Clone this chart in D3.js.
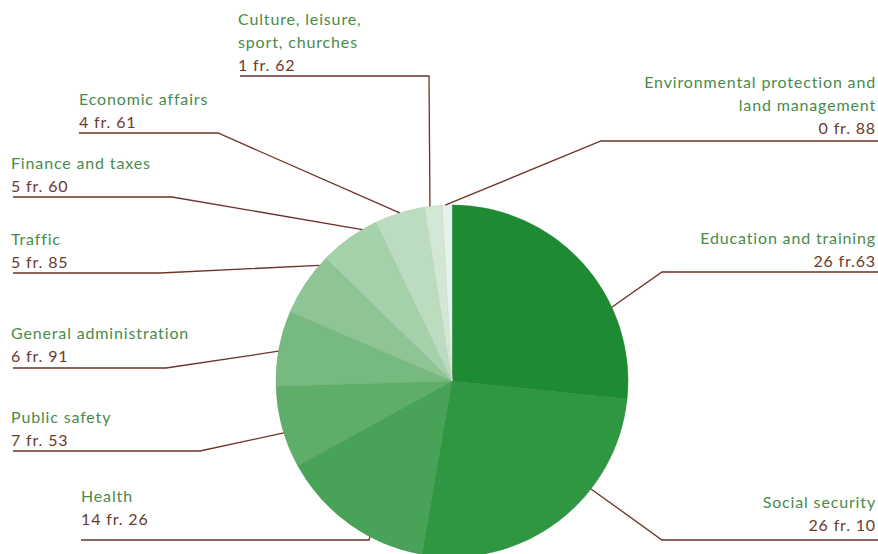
<!DOCTYPE html>
<html>
<head>
<meta charset="utf-8">
<script src="https://cdn.jsdelivr.net/npm/d3@7"></script>
<style>
  body { margin: 0; background: #fff; }
  svg { display: block; font-family: "Lato", "Noto Sans", sans-serif; }
</style>
</head>
<body>
<div id="chart"></div>
<script>
// Data (per 100 fr.)
var categories = [
    "Education and training", "Social security", "Health", "Public safety",
    "General administration", "Traffic", "Finance and taxes", "Economic affairs",
    "Culture, leisure, sport, churches", "Environmental protection and land management"
];
var values = [26.63, 26.10, 14.26, 7.53, 6.91, 5.85, 5.60, 4.61, 1.62, 0.88];
var valueLabels = ["26 fr.63", "26 fr. 10", "14 fr. 26", "7 fr. 53", "6 fr. 91",
    "5 fr. 85", "5 fr. 60", "4 fr. 61", "1 fr. 62", "0 fr. 88"];
var colors = ["#1e8b32", "#2f9742", "#48a257", "#5eae6a", "#76ba7f",
    "#8ec595", "#a4d0aa", "#bcdcc0", "#d2e8d5", "#e7f2e8"];

// Label layout: text lines, anchor, elbow, line end, where on the slice the leader hits
var labelLayout = [
    { lines: ["Education and training"], x: 876, y: 244, anchor: "end", lineY: 272, x0: 662, x1: 878, t: 0.68 },
    { lines: ["Social security"], x: 876, y: 508, anchor: "end", lineY: 540, x0: 662, x1: 878, t: 0.34 },
    { lines: ["Health"], x: 81, y: 502, anchor: "start", lineY: 540, x0: 369, x1: 81, t: 0.35 },
    { lines: ["Public safety"], x: 11, y: 423, anchor: "start", lineY: 451, x0: 200, x1: 13, t: 0.43 },
    { lines: ["General administration"], x: 11, y: 339, anchor: "start", lineY: 368, x0: 166, x1: 13, t: 0.46 },
    { lines: ["Traffic"], x: 11, y: 245, anchor: "start", lineY: 273, x0: 160, x1: 13, t: 0.85 },
    { lines: ["Finance and taxes"], x: 11, y: 169, anchor: "start", lineY: 197, x0: 172, x1: 13, t: 0.75 },
    { lines: ["Economic affairs"], x: 79, y: 105, anchor: "start", lineY: 133, x0: 218, x1: 79, t: 0.5 },
    { lines: ["Culture, leisure,", "sport, churches"], x: 238, y: 25, anchor: "start", lineY: 76, x0: 429, x1: 240, t: 0.31 },
    { lines: ["Environmental protection and", "land management"], x: 876, y: 88, anchor: "end", lineY: 141, x0: 601, x1: 878, t: 0.3 }
];

var svgWidth = 878;
var svgHeight = 554;
var cx = 452, cy = 381, radius = 176;

var svg = d3.select("#chart")
    .append("svg")
    .attr("width", svgWidth)
    .attr("height", svgHeight);

var pie = d3.pie().sort(null).value(d => d);
var arcs = pie(values);

var arc = d3.arc().innerRadius(0).outerRadius(radius);

var pieGroup = svg.append("g")
    .attr("transform", `translate(${cx}, ${cy})`);

pieGroup.selectAll("path")
    .data(arcs)
    .enter()
    .append("path")
    .attr("d", arc)
    .attr("fill", (d, i) => colors[i])
    .attr("stroke", (d, i) => d3.color(colors[i]).darker(0.25))
    .attr("stroke-width", 0.5);

// Leader lines
var lineColor = "#6e3226";
arcs.forEach(function (a, i) {
    var lay = labelLayout[i];
    var ang = a.startAngle + (a.endAngle - a.startAngle) * lay.t;
    var px = cx + radius * Math.sin(ang);
    var py = cy - radius * Math.cos(ang);
    svg.append("polyline")
        .attr("points", `${px},${py} ${lay.x0},${lay.lineY} ${lay.x1},${lay.lineY}`)
        .attr("fill", "none")
        .attr("stroke", lineColor)
        .attr("stroke-width", 1.3);
});

// Labels
var labelGroup = svg.append("g");
labelLayout.forEach(function (lay, i) {
    var t = labelGroup.append("text")
        .attr("x", lay.x)
        .attr("y", lay.y)
        .attr("text-anchor", lay.anchor)
        .attr("font-size", 16)
        .attr("letter-spacing", "0.85px");
    lay.lines.forEach(function (ln, j) {
        t.append("tspan")
            .attr("x", lay.x)
            .attr("dy", j === 0 ? 0 : 23)
            .attr("fill", "#4a8a4c")
            .text(ln);
    });
    t.append("tspan")
        .attr("x", lay.x)
        .attr("dy", 23)
        .attr("fill", "#6b3a2e")
        .text(valueLabels[i]);
});
</script>
</body>
</html>
